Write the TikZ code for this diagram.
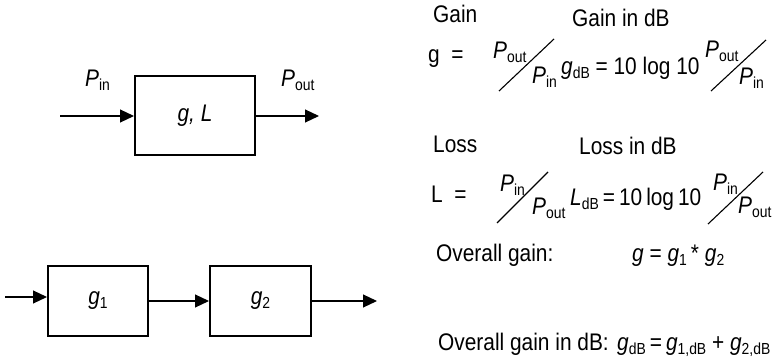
\documentclass[tikz,border=0pt]{standalone}
\usepackage{fontspec}
\setmainfont{Liberation Sans}[FakeStretch=0.87]
\usetikzlibrary{arrows.meta,positioning}
\newcommand{\sbs}[1]{\raisebox{-4pt}{\fontsize{16}{16}\selectfont\upshape #1}}
\newcommand{\Pw}[1]{\textit{P}\sbs{#1}}

\begin{document}
\begin{tikzpicture}[x=1pt, y=-1pt,
  every node/.style={font=\fontsize{24}{26}\selectfont, inner sep=0pt},
  blk/.style={draw, line width=2pt, minimum width=120pt, minimum height=79pt},
  arr/.style={-{Triangle[length=14pt,width=13pt]}, line width=1.1pt},
  txt/.style={anchor=base west},
  slash/.style={line width=1.1pt}
]
  \useasboundingbox (0,0) rectangle (777,358);

  % single stage
  \node[blk] (gl) at (195,116) {\textit{g, L}};
  \coordinate (gin) at (60,116);
  \coordinate (gout) at (319,116);
  \draw[arr] (gin) -- (gl.west);
  \draw[arr] (gl.east) -- (gout);
  \node[txt] (pin) at (85,87) {\Pw{in}};
  \node[txt] (pout) at (281,87) {\Pw{out}};

  % cascade
  \node[blk, minimum width=100pt, minimum height=70pt] (g1) at (98,301) {\textit{g}\sbs{1}};
  \node[blk, minimum width=101pt, minimum height=70pt] (g2) at (260.5,301) {\textit{g}\sbs{2}};
  \coordinate (cin) at (5,297);
  \coordinate (cout) at (377,301);
  \draw[arr] (cin) -- (cin -| g1.west);
  \draw[arr] (g1.east) -- (g2.west);
  \draw[arr] (g2.east) -- (cout);

  % gain
  \node[txt] (gainlbl) at (433,23) {Gain};
  \node[txt] (gaindb) at (572,27) {Gain in dB};
  \node[txt] (geq) at (428,63) {g\ \ =};
  \node[txt] (f1n) at (493,59) {\Pw{out}};
  \node[txt] (f1d) at (532,84) {\Pw{in}};
  \coordinate (f1a) at (499,91);
  \coordinate (f1b) at (554,39);
  \draw[slash] (f1a) -- (f1b);
  \node[txt] (gdb) at (561,75) {\textit{g}\sbs{dB} = 10 log 10};
  \node[txt] (f2n) at (705,58) {\Pw{out}};
  \node[txt] (f2d) at (739,85) {\Pw{in}};
  \coordinate (f2a) at (711,91);
  \coordinate (f2b) at (766,40);
  \draw[slash] (f2a) -- (f2b);

  % loss
  \node[txt] (losslbl) at (433,153) {Loss};
  \node[txt] (lossdb) at (579,155) {Loss in dB};
  \node[txt] (leq) at (431,203) {L\ \ =};
  \node[txt] (f3n) at (500,192) {\Pw{in}};
  \node[txt] (f3d) at (532,215) {\Pw{out}};
  \coordinate (f3a) at (497,223);
  \coordinate (f3b) at (548,172);
  \draw[slash] (f3a) -- (f3b);
  \node[txt] (ldb) at (570,206) {\textit{L}\sbs{dB}\,=\,10\,log\,10};
  \node[txt] (f4n) at (713,191) {\Pw{in}};
  \node[txt] (f4d) at (738,214) {\Pw{out}};
  \coordinate (f4a) at (708,224);
  \coordinate (f4b) at (763,172);
  \draw[slash] (f4a) -- (f4b);

  % overall
  \node[txt] (ovg) at (436,262) {Overall gain:};
  \node[txt] (ovgf) at (632,262) {\textit{g} = \textit{g}\sbs{1}\,* \textit{g}\sbs{2}};
  \node[txt] (ovdb) at (438,350) {Overall gain in dB:};
  \node[txt] (ovdbf) at (617,350) {\textit{g}\sbs{dB}\,=\,\textit{g}\sbs{1,dB} + \textit{g}\sbs{2,dB}};
\end{tikzpicture}
\end{document}
